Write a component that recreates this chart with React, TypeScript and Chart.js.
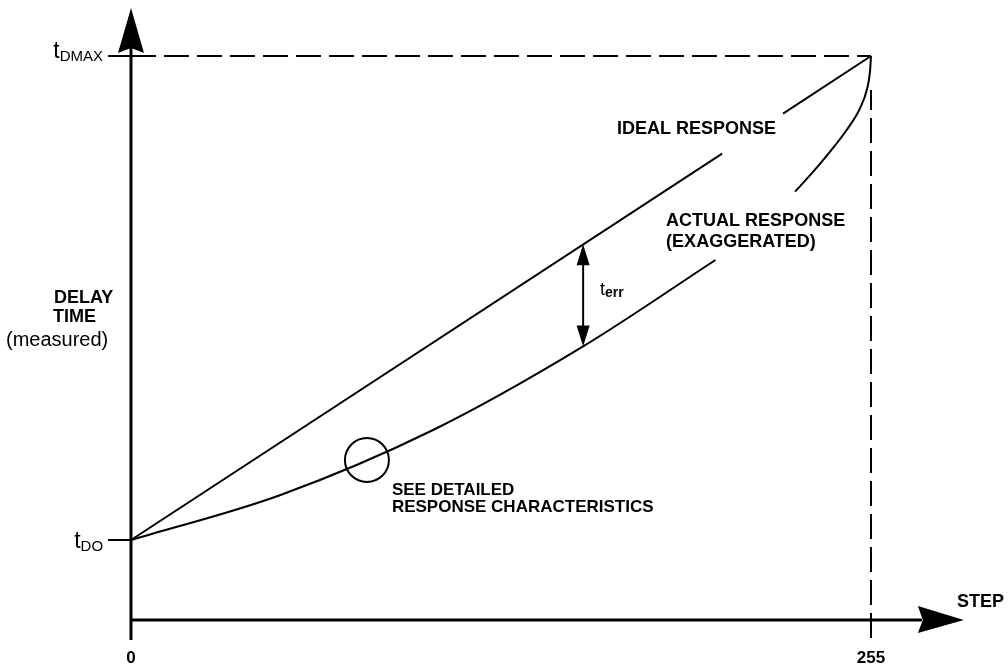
import React, { useEffect, useRef } from "react";
import { Chart, registerables } from "chart.js";

Chart.register(...registerables);

// ---- data (x = step, y = delay time in arbitrary units) ----
const STEP_MAX = 255;
const T_DO = 10;
const T_DMAX = 70.5;

const xTickValues = [0, 255];
const xTickLabels = ["0", "255"];

const idealSteps = [0, 203.7, 214, 224.7, 255];
const idealDelay: (number | null)[] = [10, 58.3, null, 63.3, 70.5];

const actualSteps = [0, 51.3, 104.1, 155.8, 201.4, 215, 228.8, 235.1, 240.9, 246.6, 251.2, 253.7, 254.65, 255];
const actualDelay: (number | null)[] = [10, 15.6, 23.75, 34.2, 45, null, 53.54, 56.04, 58.54, 61.25, 63.96, 66.46, 68.54, 70.5];

const dmaxGuideSteps = [0, 255];
const stepMaxGuideDelay = [-2.25, 66.25];

const errStep = 155.8;
const circleStep = 81.3;
const circleDelay = 20;

const AXIS_X_END = 287; // arrow tip (step units)
const AXIS_Y_END = 76.5; // arrow tip (delay units)
const AXIS_BELOW = -2.5;
const TICK_LEFT = -7.9;

const FONT = "'Liberation Sans', Arial, Helvetica, sans-serif";

type Note = { text: string; x: number; y: number; size: number; bold: boolean };
const notes: Note[] = [
  { text: "IDEAL RESPONSE", x: 167.5, y: 60.75, size: 18, bold: true },
  { text: "ACTUAL RESPONSE", x: 184.4, y: 49.25, size: 18, bold: true },
  { text: "(EXAGGERATED)", x: 184.4, y: 46.6, size: 18, bold: true },
  { text: "SEE DETAILED", x: 89.9, y: 15.6, size: 17, bold: true },
  { text: "RESPONSE CHARACTERISTICS", x: 89.9, y: 13.5, size: 17, bold: true },
];

const pts = (xs: number[], ys: (number | null)[]) => xs.map((x, i) => ({ x, y: ys[i] }));

export default function App() {
  const ref = useRef<HTMLCanvasElement>(null);

  useEffect(() => {
    const canvas = ref.current!;
    const idealAt = (s: number) => T_DO + ((T_DMAX - T_DO) * s) / STEP_MAX;

    const deco = {
      id: "deco",
      afterDatasetsDraw(chart: any) {
        const ctx: CanvasRenderingContext2D = chart.ctx;
        const xs = chart.scales.x;
        const ys = chart.scales.y;
        const px = (v: number) => xs.getPixelForValue(v);
        const py = (v: number) => ys.getPixelForValue(v);
        ctx.save();
        ctx.strokeStyle = "#000";
        ctx.fillStyle = "#000";
        ctx.lineCap = "butt";

        const x0 = px(0);
        const y0 = py(0);
        // axes
        ctx.lineWidth = 3;
        const yTip = py(AXIS_Y_END);
        const xTip = px(AXIS_X_END);
        ctx.beginPath();
        ctx.moveTo(x0, py(AXIS_BELOW));
        ctx.lineTo(x0, yTip + 40);
        ctx.moveTo(x0, y0);
        ctx.lineTo(xTip - 42, y0);
        ctx.stroke();
        // arrowheads
        ctx.beginPath();
        ctx.moveTo(x0, yTip);
        ctx.lineTo(x0 + 13, yTip + 45);
        ctx.lineTo(x0, yTip + 40);
        ctx.lineTo(x0 - 13, yTip + 45);
        ctx.closePath();
        ctx.fill();
        ctx.beginPath();
        ctx.moveTo(xTip, y0);
        ctx.lineTo(xTip - 46, y0 - 14);
        ctx.lineTo(xTip - 41, y0);
        ctx.lineTo(xTip - 46, y0 + 13);
        ctx.closePath();
        ctx.fill();

        // y ticks
        ctx.lineWidth = 2;
        ctx.beginPath();
        ctx.moveTo(px(TICK_LEFT), py(T_DO));
        ctx.lineTo(x0, py(T_DO));
        ctx.moveTo(px(TICK_LEFT), py(T_DMAX));
        ctx.lineTo(x0, py(T_DMAX));
        ctx.stroke();

        // err double arrow
        const ea = py(idealAt(errStep));
        const eb = py(actualDelay[actualSteps.indexOf(errStep)] as number);
        const ex = px(errStep);
        ctx.lineWidth = 2;
        ctx.beginPath();
        ctx.moveTo(ex, ea + 15);
        ctx.lineTo(ex, eb - 15);
        ctx.stroke();
        ctx.beginPath();
        ctx.moveTo(ex, ea);
        ctx.lineTo(ex + 6.5, ea + 21);
        ctx.lineTo(ex - 6.5, ea + 21);
        ctx.closePath();
        ctx.fill();
        ctx.beginPath();
        ctx.moveTo(ex, eb);
        ctx.lineTo(ex + 6.5, eb - 21);
        ctx.lineTo(ex - 6.5, eb - 21);
        ctx.closePath();
        ctx.fill();

        // circle
        ctx.beginPath();
        ctx.arc(px(circleStep), py(circleDelay), 22, 0, Math.PI * 2);
        ctx.stroke();

        // text
        ctx.textBaseline = "alphabetic";
        ctx.textAlign = "left";
        for (const n of notes) {
          ctx.font = `${n.bold ? "bold " : ""}${n.size}px ${FONT}`;
          ctx.fillText(n.text, px(n.x), py(n.y));
        }
        // t_err
        ctx.font = `18px ${FONT}`;
        const tx = px(161.6);
        const tyb = py(40.6);
        ctx.fillText("t", tx, tyb);
        const tw = ctx.measureText("t").width;
        ctx.font = `bold 14px ${FONT}`;
        ctx.fillText("err", tx + tw, tyb + 2);

        // y labels
        const sub = (main: string, s: string, right: number, base: number) => {
          ctx.font = `15px ${FONT}`;
          const sw = ctx.measureText(s).width;
          ctx.font = `23px ${FONT}`;
          const mw = ctx.measureText(main).width;
          const left = right - sw - mw;
          ctx.fillText(main, left, base);
          ctx.font = `15px ${FONT}`;
          ctx.fillText(s, left + mw, base + 3);
        };
        sub("t", "DMAX", px(TICK_LEFT) - 5, py(T_DMAX) + 2);
        sub("t", "DO", px(TICK_LEFT) - 5, py(T_DO) + 8);

        ctx.font = `bold 18px ${FONT}`;
        ctx.fillText("DELAY", 54, 303);
        ctx.fillText("TIME", 53, 322);
        ctx.font = `20px ${FONT}`;
        ctx.fillText("(measured)", 6, 346);

        // x labels
        ctx.textAlign = "center";
        ctx.font = `bold 17px ${FONT}`;
        xTickValues.forEach((v, i) => ctx.fillText(xTickLabels[i], px(v), 663));
        ctx.textAlign = "left";
        ctx.font = `bold 18px ${FONT}`;
        ctx.fillText("STEP", 957, 607);

        ctx.restore();
      },
    };

    const chart = new Chart(canvas, {
      type: "line",
      data: {
        datasets: [
          {
            data: pts(idealSteps, idealDelay),
            borderColor: "#000",
            borderWidth: 2,
            pointRadius: 0,
            spanGaps: false,
            tension: 0,
          },
          {
            data: pts(actualSteps, actualDelay),
            borderColor: "#000",
            borderWidth: 2,
            pointRadius: 0,
            spanGaps: false,
            cubicInterpolationMode: "monotone",
          },
          {
            data: pts(dmaxGuideSteps, dmaxGuideSteps.map(() => T_DMAX)),
            borderColor: "#000",
            borderWidth: 2,
            borderDash: [25, 8],
            pointRadius: 0,
          },
          {
            data: pts([STEP_MAX, STEP_MAX], stepMaxGuideDelay),
            borderColor: "#000",
            borderWidth: 2,
            borderDash: [25, 8],
            pointRadius: 0,
          },
        ] as any,
      },
      options: {
        responsive: false,
        animation: false,
        devicePixelRatio: 1,
        layout: { padding: { left: 116.49, right: 35.43, top: 4, bottom: 10 } },
        plugins: { legend: { display: false }, tooltip: { enabled: false } },
        scales: {
          x: { type: "linear", min: -5, max: 290, display: false },
          y: { type: "linear", min: -5, max: 77, display: false },
        },
      },
      plugins: [deco],
    });
    return () => chart.destroy();
  }, []);

  return (
    <div style={{ position: "absolute", left: 0, top: 0, width: 1008, height: 670, background: "#fff" }}>
      <canvas ref={ref} width={1008} height={670} />
    </div>
  );
}
